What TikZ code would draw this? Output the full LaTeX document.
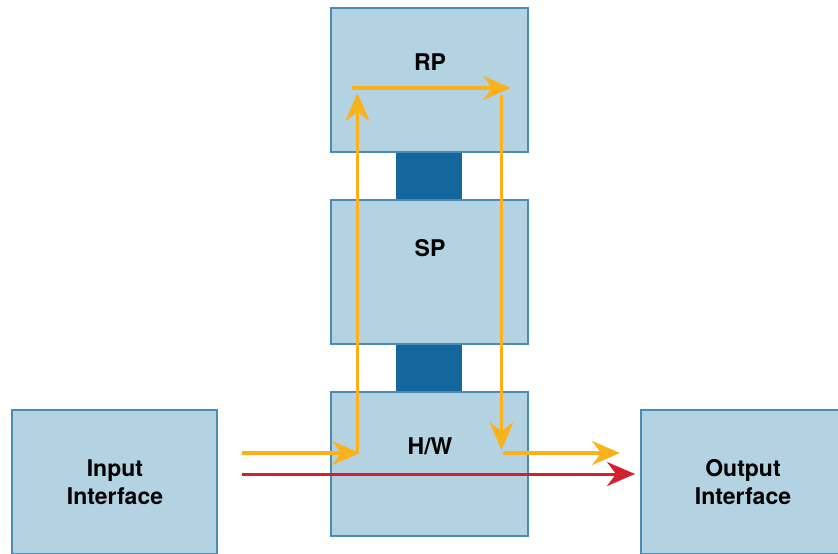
\documentclass[tikz,border=0pt]{standalone}
\usepackage{fontspec}
\setmainfont{TeX Gyre Heros}
\usetikzlibrary{arrows.meta, positioning}

\definecolor{boxfill}{HTML}{B3D3E2}
\definecolor{boxline}{HTML}{4A8CB5}
\definecolor{linkblue}{HTML}{13679A}
\definecolor{slowpath}{HTML}{FBB11B}
\definecolor{fastpath}{HTML}{D3202F}

\tikzset{
	unit/.style={draw=boxline, fill=boxfill, line width=2pt, minimum width=197pt, minimum height=144pt, inner sep=0pt},
	port/.style={unit, minimum width=205pt},
	tag/.style={font=\bfseries\fontsize{23}{28}\selectfont, align=center, inner sep=0pt},
	link/.style={fill=linkblue, minimum width=66pt, minimum height=48pt, inner sep=0pt},
	slow/.style={slowpath, line width=3.2pt},
	fast/.style={fastpath, line width=3pt}
}

\begin{document}
\begin{tikzpicture}[x=1pt, y=-1pt, >={Stealth[length=28pt, width=24pt, inset=9pt]}]
	
	\useasboundingbox (0,0) rectangle (838,554);
	\clip (0,0) rectangle (838,554);
	
	% --- Processor stack ---
	\node[link] (upper) at (429,176) {};
	\node[link] (lower) at (429,368) {};
	\node[unit] (rp) at (429.5,80) {};
	\node[unit] (sp) at (429.5,272) {};
	\node[unit] (hw) at (429,464) {};
	\node[tag] (rptag) at (430,62) {RP};
	\node[tag] (sptag) at (430,248) {SP};
	\node[tag] (hwtag) at (430,446) {H/W};
	
	% --- Interfaces (cut by the frame) ---
	\node[port] (inp) at (114.5,482) {};
	\node[port] (outp) at (743.5,482) {};
	\node[tag] (inptag) at (115,482) {Input\\Interface};
	\node[tag] (outptag) at (743,482) {Output\\Interface};
	
	% Slow path through RP
	\coordinate (s0) at (242,453);
	\coordinate (s1) at (360,453);
	\coordinate (s2) at (357.5,453);
	\coordinate (s3) at (357.5,93);
	\coordinate (s4) at (352,88);
	\coordinate (s5) at (511,88);
	\coordinate (s6) at (501.5,95);
	\coordinate (s7) at (501.5,450);
	\coordinate (s8) at (503,453);
	\coordinate (s9) at (620,453);
	\draw[slow, ->] (s0) -- (s1);
	\draw[slow, ->] (s2) -- (s3);
	\draw[slow, ->] (s4) -- (s5);
	\draw[slow, ->] (s6) -- (s7);
	\draw[slow, ->] (s8) -- (s9);
	
	% Fast path in hardware
	\coordinate (f0) at (242,474);
	\coordinate (f1) at (635,474);
	\draw[fast, ->] (f0) -- (f1);
	
\end{tikzpicture}
\end{document}
